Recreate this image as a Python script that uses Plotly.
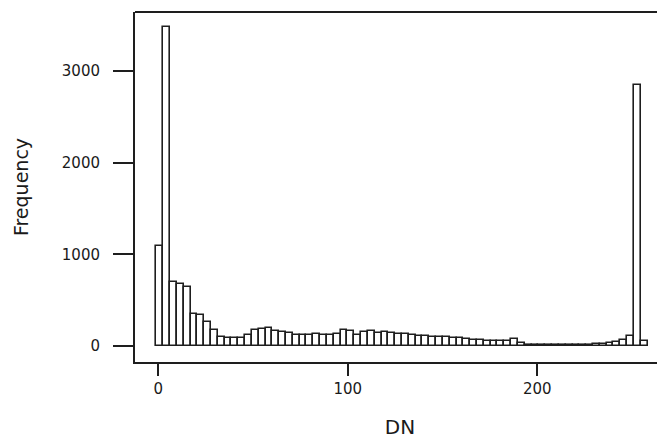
import plotly.graph_objects as go

# Histogram of DN values (bin width ~3.6 DN, first bin starting at -1)
bin_start = -1.0
bin_width = 3.6
frequency = [
    1090, 3480, 700, 680, 645, 350, 335, 262, 171, 100,
    90, 85, 88, 120, 170, 190, 200, 165, 150, 140,
    120, 115, 115, 125, 115, 120, 125, 175, 165, 120,
    150, 160, 140, 150, 140, 130, 130, 120, 110, 110,
    100, 100, 95, 90, 85, 80, 70, 60, 55, 50,
    55, 55, 80, 30, 15, 10, 10, 8, 5, 5,
    5, 5, 5, 10, 20, 25, 30, 45, 60, 110,
    2850, 55,
]
dn_mid = [bin_start + bin_width * (i + 0.5) for i in range(len(frequency))]

x_ticks = [0, 100, 200]
y_ticks = [0, 1000, 2000, 3000]

line_col = "#1e1e1e"
font_fam = "DejaVu Sans, Arial, sans-serif"

fig = go.Figure(
    go.Bar(
        x=dn_mid,
        y=frequency,
        width=bin_width,
        marker=dict(color="white", line=dict(color=line_col, width=1.6)),
        showlegend=False,
    )
)

# page body adds an 8px margin, so the figure is sized/offset accordingly
fig.update_layout(
    width=657,
    height=431,
    margin=dict(l=127, r=0, t=4, b=77),
    paper_bgcolor="white",
    plot_bgcolor="white",
    font=dict(family=font_fam, color="#1a1a1a"),
    bargap=0,
    xaxis=dict(
        range=[-12.3, 267.4],
        tickvals=x_ticks,
        ticktext=[str(v) for v in x_ticks],
        ticks="outside",
        ticklen=12,
        tickwidth=2,
        tickcolor=line_col,
        showgrid=False,
        zeroline=False,
        showline=True,
        linecolor=line_col,
        linewidth=2,
        tickfont=dict(size=15),
        title=dict(text="DN", font=dict(size=20), standoff=30),
        automargin=False,
    ),
    yaxis=dict(
        range=[-175, 3642],
        tickvals=y_ticks,
        ticktext=[str(v) for v in y_ticks],
        ticks="outside",
        ticklen=20,
        tickwidth=2,
        tickcolor=line_col,
        ticklabelstandoff=10,
        showgrid=False,
        zeroline=False,
        showline=True,
        linecolor=line_col,
        linewidth=2,
        tickfont=dict(size=15),
        title=dict(text="Frequency", font=dict(size=19), standoff=28),
        automargin=False,
    ),
    shapes=[
        dict(type="line", xref="paper", yref="paper", x0=0, x1=1, y0=1, y1=1,
             line=dict(color=line_col, width=2)),
    ],
)

fig.write_html("out.html")
